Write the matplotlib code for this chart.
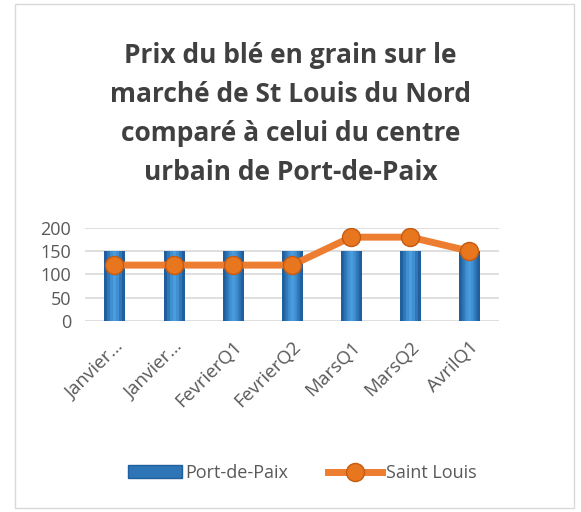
import matplotlib.pyplot as plt
import matplotlib.patches as mpatches
from matplotlib.lines import Line2D
import numpy as np

categories = ["Janvier…", "Janvier…", "FevrierQ1", "FevrierQ2", "MarsQ1", "MarsQ2", "AvrilQ1"]
port_de_paix = [150, 150, 150, 150, 150, 150, 150]
saint_louis = [120, 120, 120, 120, 180, 180, 150]

plt.rcParams['font.family'] = ['Open Sans', 'DejaVu Sans']

fig = plt.figure(figsize=(5.81, 5.12), dpi=100)
ax = fig.add_axes([0.146, 0.373, 0.713, 0.182])

x = np.arange(len(categories))
bar_w = 0.34

# blue bars with a horizontal shading to mimic the 3D look
bars = ax.bar(x, port_de_paix, width=bar_w, color='#2E75B6', zorder=2)
grad = np.array([[0.0, 0.35, 0.7, 0.9, 0.7, 0.35, 0.0]])
cmap = plt.matplotlib.colors.LinearSegmentedColormap.from_list('b', ['#1F5F9E', '#4A9EE0'])
for b in bars:
    x0 = b.get_x()
    im = ax.imshow(grad, cmap=cmap, aspect='auto', zorder=2.1,
                   extent=[x0, x0 + b.get_width(), 0, b.get_height()])
    im.set_clip_path(b)

ax.plot(x, saint_louis, color='#ED7D31', linewidth=5, marker='o', markersize=13,
        markerfacecolor='#E8761E', markeredgecolor='#C55A11', markeredgewidth=1, zorder=3)

ax.set_xlim(-0.5, len(categories) - 0.5)
ax.set_ylim(0, 200)
ax.set_yticks([0, 50, 100, 150, 200])
ax.grid(axis='y', color='#D9D9D9', linewidth=1.2, zorder=0)
ax.set_axisbelow(True)
for s in ax.spines.values():
    s.set_visible(False)
ax.tick_params(length=0, labelsize=13, colors='#595959', pad=10)
ax.tick_params(axis='x', labelsize=13.5, pad=12)
ax.set_xticks(x)
ax.set_xticklabels(categories, rotation=45, ha='right', rotation_mode='anchor')

fig.text(0.5, 0.777, "Prix du blé en grain sur le\nmarché de St Louis du Nord\ncomparé à celui du centre\nurbain de Port-de-Paix",
         ha='center', va='center', fontsize=19, fontweight='bold', color='#404040', linespacing=1.58)

handles = [mpatches.Patch(facecolor='#2E75B6', edgecolor='#1F5F9E'),
           Line2D([], [], color='#ED7D31', linewidth=5, marker='o', markersize=13,
                  markerfacecolor='#E8761E', markeredgecolor='#C55A11')]
leg = fig.legend(handles, ["Port-de-Paix", "Saint Louis"], loc='center', bbox_to_anchor=(0.52, 0.076),
                 ncol=2, frameon=False, fontsize=13, handlelength=3.0, handletextpad=0.2,
                 columnspacing=2.2)
for t in leg.get_texts():
    t.set_color('#595959')

fig.patches.append(mpatches.Rectangle((0.026, 0.008), 0.962, 0.985, transform=fig.transFigure,
                                      fill=False, edgecolor='#D9D9D9', linewidth=1))

fig.savefig("out.png", dpi=100)
